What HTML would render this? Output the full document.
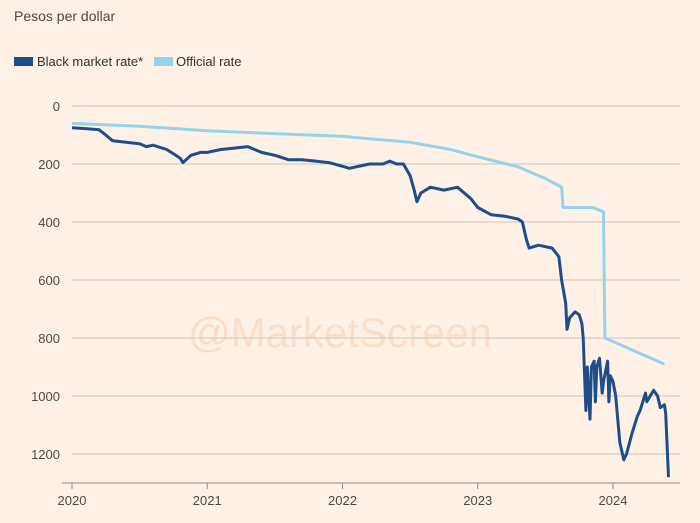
<!DOCTYPE html>
<html><head><meta charset="utf-8"><style>
body{margin:0;background:#fff1e5;font-family:"Liberation Sans",sans-serif;}
svg{display:block}
</style></head><body>
<svg width="700" height="523">
<rect width="700" height="523" fill="#fff1e5"/>
<text x="14" y="21" font-size="14" fill="#4d4845">Pesos per dollar</text>
<g>
<rect x="14" y="57" width="19" height="9" fill="#1e4e8a"/>
<text x="37" y="66" font-size="13" fill="#33302e">Black market rate*</text>
<rect x="154" y="57" width="19" height="9" fill="#96d3ea"/>
<text x="176" y="66" font-size="13" fill="#33302e">Official rate</text>
</g>
<text x="340" y="347" font-size="42" fill="#fbd9c2" text-anchor="middle" opacity="0.8">@MarketScreen</text>
<g id="grid"></g><g id="axes"></g><g id="series"></g>
</svg>
<script>
const yTicks=[0,200,400,600,800,1000,1200];
const xTicks=[2020,2021,2022,2023,2024];
const blackX=[2020.0,2020.1,2020.2,2020.25,2020.3,2020.4,2020.5,2020.55,2020.6,2020.7,2020.75,2020.8,2020.82,2020.88,2020.95,2021.0,2021.1,2021.2,2021.3,2021.4,2021.5,2021.6,2021.7,2021.8,2021.9,2022.0,2022.05,2022.1,2022.2,2022.3,2022.35,2022.4,2022.45,2022.5,2022.53,2022.55,2022.58,2022.65,2022.75,2022.85,2022.95,2023.0,2023.1,2023.2,2023.3,2023.33,2023.36,2023.38,2023.45,2023.55,2023.6,2023.62,2023.65,2023.66,2023.68,2023.72,2023.75,2023.77,2023.78,2023.8,2023.81,2023.83,2023.84,2023.86,2023.87,2023.88,2023.9,2023.92,2023.93,2023.96,2023.97,2023.98,2024.0,2024.02,2024.05,2024.08,2024.1,2024.14,2024.18,2024.2,2024.24,2024.25,2024.3,2024.33,2024.35,2024.38,2024.39,2024.41];
const blackY=[75,78,82,100,120,125,130,140,135,150,165,180,195,170,160,160,150,145,140,160,170,185,185,190,195,208,215,210,200,200,190,200,200,240,290,330,300,280,290,280,320,350,375,380,390,400,460,490,480,490,520,600,680,770,730,710,720,750,800,1050,900,1080,900,880,1020,900,870,990,950,880,1020,930,950,1000,1160,1220,1200,1130,1070,1050,990,1020,980,1000,1040,1030,1060,1280];
const offX=[2020,2020.5,2021,2021.5,2022,2022.5,2022.8,2023,2023.3,2023.5,2023.62,2023.63,2023.85,2023.93,2023.94,2024.38];
const offY=[60,70,85,95,105,125,150,175,210,250,280,350,350,365,800,890];
const NS="http://www.w3.org/2000/svg";
const xs=v=>72+(v-2020)*135.25, ys=v=>106+v*0.29;
const grid=document.getElementById('grid'),axes=document.getElementById('axes'),ser=document.getElementById('series');
function mk(tag,at,p){const e=document.createElementNS(NS,tag);for(const k in at)e.setAttribute(k,at[k]);p.appendChild(e);return e;}
yTicks.forEach(t=>{
 const l=mk('line',{x1:72,x2:680,y1:ys(t),y2:ys(t),stroke:'#d9cdc2','stroke-width':1.2},grid);
 
 
 const tx=mk('text',{x:60,y:ys(t)+5,'font-size':13,fill:'#4d4845','text-anchor':'end'},axes);
 tx.textContent=t;
 
 
});
const base=mk('line',{x1:62,x2:680,y1:483,y2:483,stroke:'#8f8883','stroke-width':1},axes);


xTicks.forEach(t=>{
 const l=mk('line',{x1:xs(t),x2:xs(t),y1:483,y2:489,stroke:'#8f8883'},axes);
 
 
 const tx=mk('text',{x:xs(t),y:505,'font-size':13,fill:'#4d4845','text-anchor':'middle'},axes);
 tx.textContent=t;
 
 
});
const pts=(X,Y)=>X.map((x,i)=>xs(x).toFixed(1)+','+ys(Y[i]).toFixed(1)).join(' ');
const o=mk('polyline',{points:pts(offX,offY),fill:'none',stroke:'#96d3ea','stroke-width':3,'stroke-linejoin':'round'},ser);


const b=mk('polyline',{points:pts(blackX,blackY),fill:'none',stroke:'#1e4e8a','stroke-width':3,'stroke-linejoin':'round'},ser);


</script>
</body></html>
